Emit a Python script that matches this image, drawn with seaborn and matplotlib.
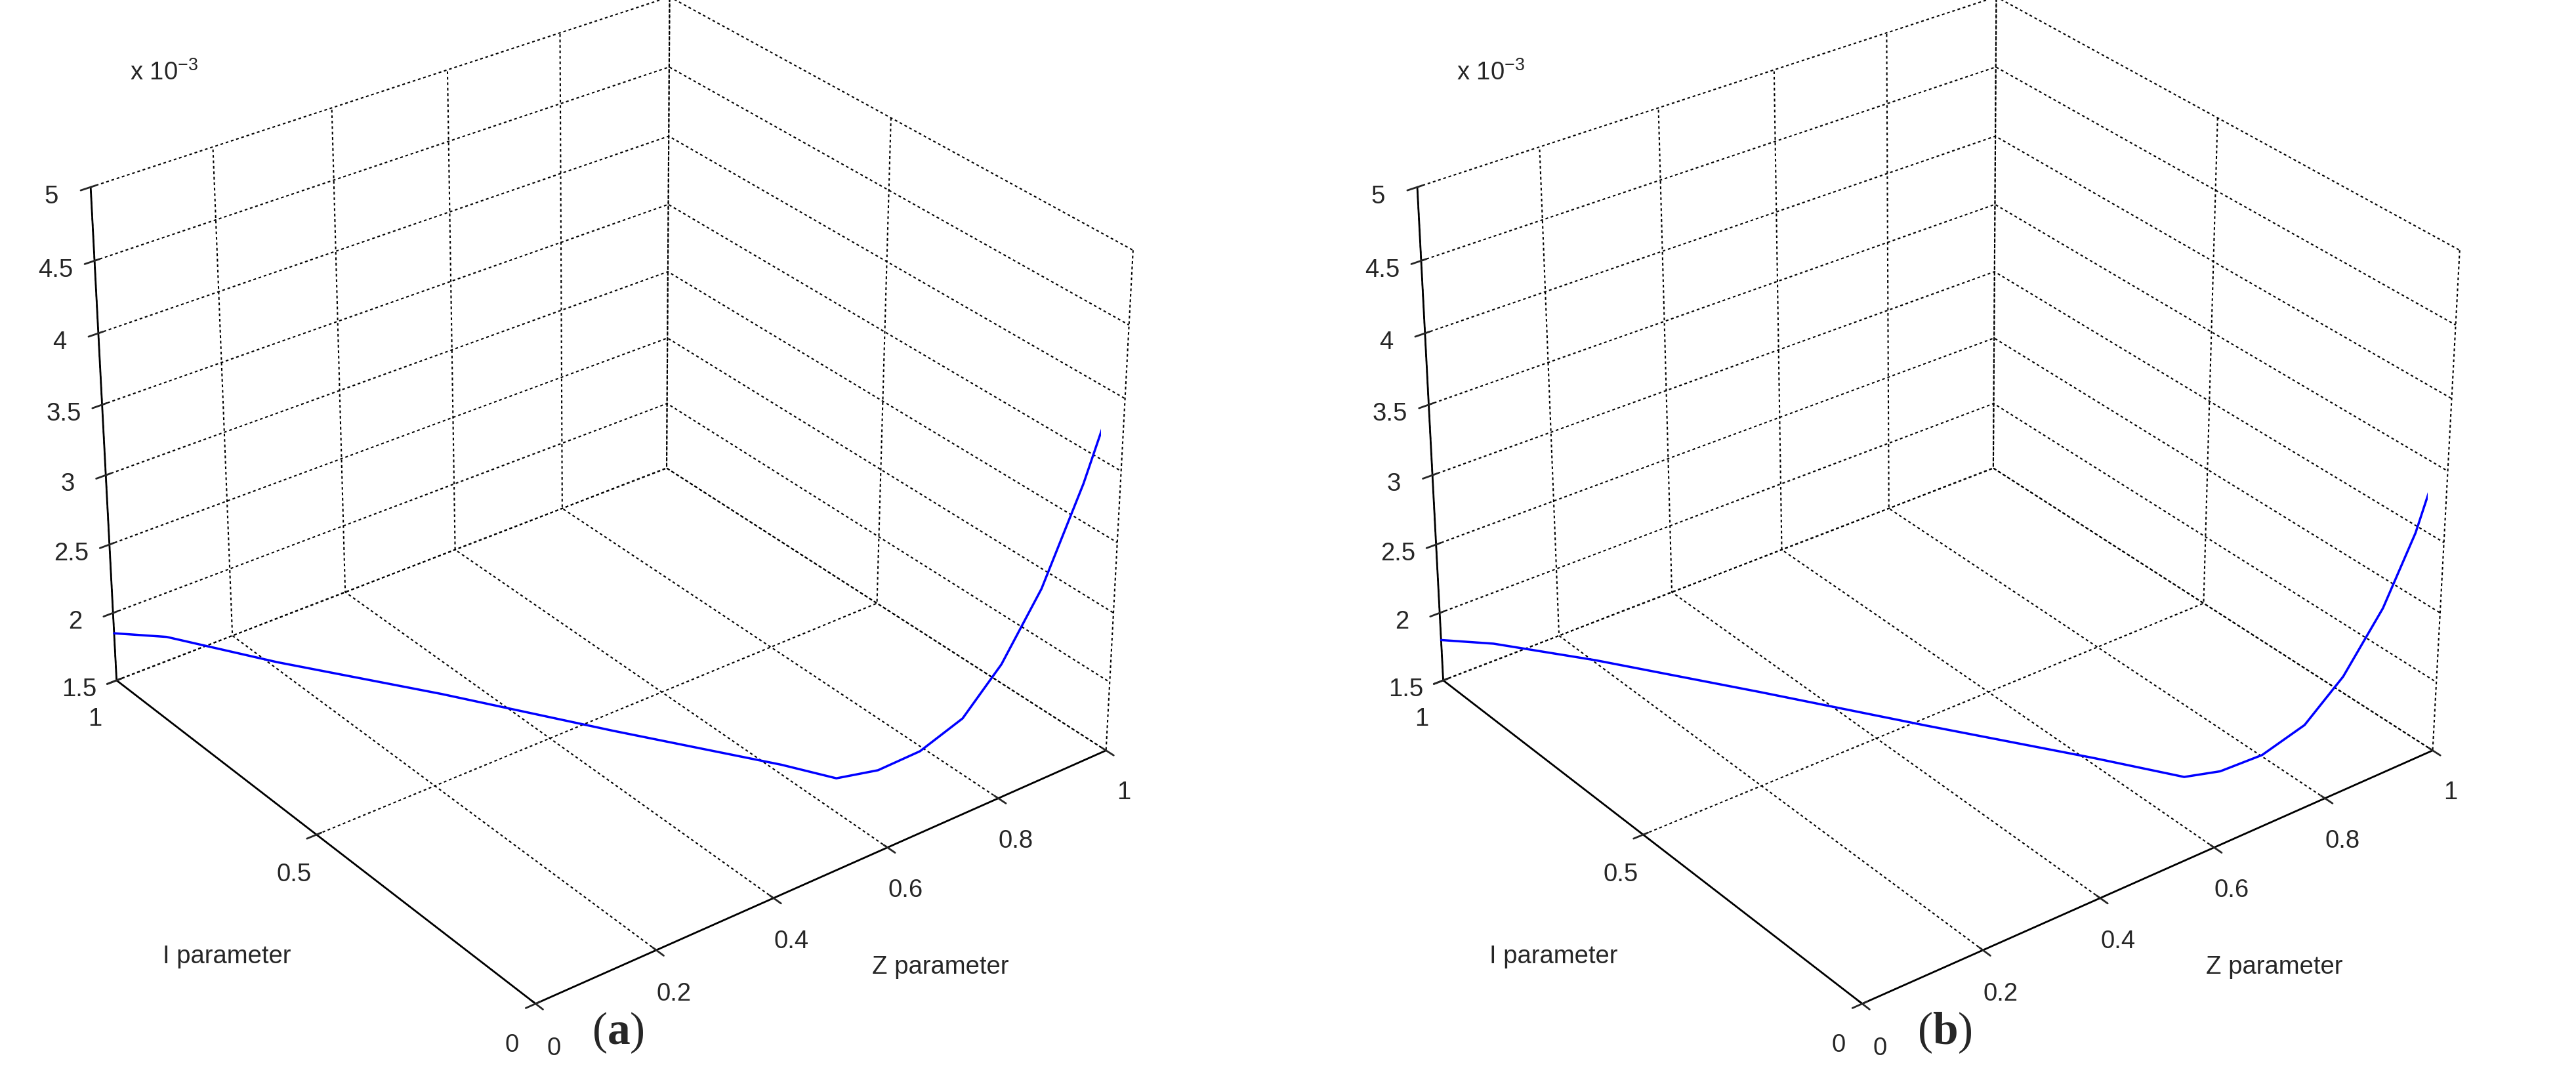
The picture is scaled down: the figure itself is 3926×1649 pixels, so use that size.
import numpy as np
import matplotlib
matplotlib.use('Agg')
import matplotlib.pyplot as plt
import seaborn as sns

# curve data (value in units of 1e-3)
z_a = [0.0, 0.05, 0.15, 0.3, 0.45, 0.6, 0.65, 0.7, 0.75, 0.8, 0.85, 0.9, 0.95, 1.0]
i_a = [1.0, 0.94, 0.81, 0.62, 0.42, 0.23, 0.17, 0.14, 0.11, 0.08, 0.06, 0.04, 0.02, 0.0]
v_a = [1.85, 1.87, 1.80, 1.73, 1.65, 1.57, 1.52, 1.56, 1.68, 1.90, 2.25, 2.75, 3.45, 4.30]

z_b = [0.0, 0.05, 0.15, 0.3, 0.45, 0.6, 0.68, 0.72, 0.77, 0.82, 0.87, 0.92, 0.96, 1.0]
i_b = [1.0, 0.94, 0.83, 0.64, 0.45, 0.26, 0.16, 0.13, 0.10, 0.07, 0.05, 0.03, 0.015, 0.0]
v_b = [1.80, 1.82, 1.77, 1.70, 1.62, 1.55, 1.50, 1.54, 1.64, 1.84, 2.15, 2.60, 3.10, 3.80]

z_ticks = [0, 0.2, 0.4, 0.6, 0.8, 1]
i_ticks = [0, 0.5, 1]
v_ticks = [1.5, 2, 2.5, 3, 3.5, 4, 4.5, 5]
v_labels = ['1.5', '2', '2.5', '3', '3.5', '4', '4.5', '5']

sns.set_style('white')
plt.rcParams['font.family'] = ['Liberation Sans', 'DejaVu Sans']
plt.rcParams['mathtext.fontset'] = 'custom'
plt.rcParams['mathtext.rm'] = 'Liberation Sans'
plt.rcParams['mathtext.bf'] = 'Liberation Serif:bold'

fig = plt.figure(figsize=(15.704, 6.596), dpi=250)


def panel(rect, zs, is_, vs, tag, ipos, zpos):
    ax = fig.add_axes(rect, projection='3d')
    ax.view_init(elev=30, azim=-127.5)
    ax.set_box_aspect((1.2, 1.2, 0.95), zoom=1.12)
    ax.plot(zs, is_, vs, color='#0000ff', linewidth=1.0)
    ax.set_xlim(0, 1)
    ax.set_ylim(0, 1)
    ax.set_zlim(1.5, 5)
    ax.set_xticks(z_ticks)
    ax.set_xticklabels([f'{t:g}' for t in z_ticks])
    ax.set_yticks(i_ticks)
    ax.set_yticklabels([f'{t:g}' for t in i_ticks])
    ax.set_zticks(v_ticks)
    ax.set_zticklabels(v_labels)
    ax.tick_params(labelsize=11, pad=1)
    for axis in (ax.xaxis, ax.yaxis, ax.zaxis):
        axis.set_pane_color((1, 1, 1, 0))
        axis.pane.set_edgecolor('k')
        axis._axinfo['grid'].update(color='k', linestyle=(0, (2, 2)), linewidth=0.6)
        axis.line.set_color('k')
    ax.text2D(0.045, 0.9, r'x 10$^{-3}$', transform=ax.transAxes, fontsize=11)
    fig.text(ipos[0], ipos[1], 'I parameter', ha='center', fontsize=11)
    fig.text(zpos[0], zpos[1], 'Z parameter', ha='center', fontsize=11)
    fig.text(rect[0] + rect[2] / 2 + 0.01, 0.035, r'($\mathbf{' + tag + r'}$)',
             ha='center', fontsize=20, family='Liberation Serif')
    return ax


panel([-0.02, 0.08, 0.50, 0.94], z_a, i_a, v_a, 'a', (0.088, 0.11), (0.365, 0.10))
panel([0.495, 0.08, 0.50, 0.94], z_b, i_b, v_b, 'b', (0.603, 0.11), (0.883, 0.10))

fig.savefig('out.png', dpi=250)
